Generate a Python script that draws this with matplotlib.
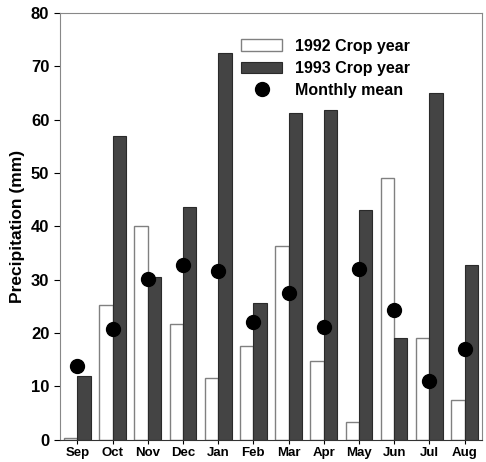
import matplotlib.pyplot as plt
import numpy as np

plt.rcParams['font.family'] = ['Liberation Sans', 'DejaVu Sans']
plt.rcParams['font.weight'] = 'bold'

# monthly precipitation data (mm)
months = ['Sep', 'Oct', 'Nov', 'Dec', 'Jan', 'Feb', 'Mar', 'Apr', 'May', 'Jun', 'Jul', 'Aug']
crop_1992 = [0.3, 25.2, 40.1, 21.7, 11.5, 17.6, 36.4, 14.7, 3.3, 49.1, 19.1, 7.5]
crop_1993 = [11.9, 56.9, 30.6, 43.7, 72.5, 25.7, 61.3, 61.9, 43.1, 19.1, 65.0, 32.7]
monthly_mean = [13.9, 20.8, 30.2, 32.8, 31.6, 22.0, 27.5, 21.1, 32.1, 24.3, 11.0, 17.1]

fig = plt.figure(figsize=(4.86, 4.62), dpi=100)
ax = fig.add_axes([0.123, 0.048, 0.869, 0.924])

x = np.arange(len(months))
w = 0.38

b92 = ax.bar(x - w / 2, crop_1992, w, color='white', edgecolor='#808080', linewidth=1.0,
             label='1992 Crop year')
b93 = ax.bar(x + w / 2, crop_1993, w, color='#444444', edgecolor='#2a2a2a', linewidth=0.8,
             label='1993 Crop year')
mm, = ax.plot(x, monthly_mean, 'o', color='black', markersize=10, label='Monthly mean')

ax.set_xlim(-0.5, len(months) - 0.5)
ax.set_ylim(0, 80)
ax.set_yticks(range(0, 81, 10))
ax.set_xticks(x)
ax.set_xticklabels(months, fontsize=9.5, fontweight='bold')
ax.tick_params(axis='x', length=3, pad=2)
ax.tick_params(axis='y', length=4, labelsize=12)
ax.set_ylabel('Precipitation (mm)', fontsize=12.5, fontweight='bold', labelpad=4)

for s in ['top', 'right', 'left']:
    ax.spines[s].set_color('#888888')
ax.spines['bottom'].set_color('#333333')

ax.legend([b92, b93, mm], ['1992 Crop year', '1993 Crop year', 'Monthly mean'],
          loc='upper right', bbox_to_anchor=(0.845, 0.955), frameon=False, fontsize=11.5,
          handlelength=2.6, handletextpad=0.8, labelspacing=0.45, borderaxespad=0)

plt.savefig('out.png', dpi=100)
